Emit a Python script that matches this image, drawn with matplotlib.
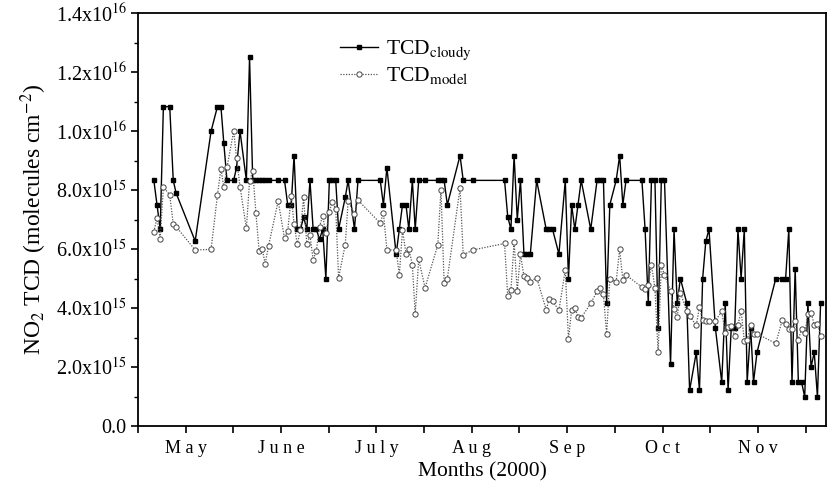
import matplotlib
matplotlib.use('Agg')
import matplotlib.pyplot as plt
from matplotlib.ticker import FixedLocator, MultipleLocator, FuncFormatter

plt.rcParams['font.family'] = ['Liberation Serif', 'DejaVu Serif']
plt.rcParams['mathtext.fontset'] = 'stix'

# days counted from the start of May 2000
days = [5.0, 6.0, 7.0, 8.0, 10.0, 11.1, 12.0, 18.0, 23.0, 25.0,
        26.1, 27.0, 28.0, 30.1, 31.0, 32.1, 34.1, 35.1, 36.1, 37.1,
        38.1, 39.1, 40.0, 41.1, 44.1, 46.1, 47.1, 48.2, 49.1, 50.1,
        51.1, 52.1, 53.1, 54.1, 55.1, 56.1, 57.1, 58.1, 59.1, 60.2,
        61.1, 62.2, 63.1, 65.2, 66.1, 68.1, 69.2, 76.2, 77.2, 78.3,
        81.2, 82.2, 83.2, 84.3, 85.2, 86.3, 87.2, 88.3, 90.3, 94.3,
        95.3, 96.3, 97.3, 101.3, 102.3, 105.3, 115.3, 116.3, 117.3, 118.3,
        119.3, 120.3, 121.4, 122.4, 123.4, 125.4, 128.4, 129.3, 130.4, 132.4,
        134.4, 135.4, 136.4, 137.4, 138.4, 139.4, 142.4, 144.4, 145.4, 146.4,
        147.4, 148.4, 150.4, 151.5, 152.5, 153.5, 158.5, 159.5, 160.5, 161.5,
        162.6, 163.6, 164.6, 165.6, 167.5, 168.6, 169.6, 170.6, 172.6, 173.5,
        175.6, 176.6, 177.6, 178.6, 179.6, 181.6, 183.6, 184.7, 185.6, 186.6,
        187.7, 188.7, 189.7, 190.7, 191.6, 192.7, 193.6, 194.7, 200.6, 202.6,
        203.7, 204.7, 205.7, 206.7, 207.7, 208.7, 209.7, 210.7, 211.7, 212.7,
        213.7, 214.7]

# NO2 total column density, units of 1e15 molecules cm^-2
tcd_cloudy = [8.33, 7.5, 6.67, 10.83, 10.83, 8.33, 7.9, 6.27, 10.0, 10.83,
              10.83, 9.6, 8.33, 8.33, 8.76, 10.0, 8.33, 12.5, 8.33, 8.33,
              8.33, 8.33, 8.33, 8.33, 8.33, 8.33, 7.5, 7.5, 9.17, 6.67,
              6.67, 7.08, 6.67, 8.33, 6.67, 6.67, 6.33, 6.67, 5.0, 8.33,
              8.33, 8.33, 6.67, 7.75, 8.33, 6.67, 8.33, 8.33, 7.5, 8.76,
              5.83, 6.67, 7.5, 7.5, 6.67, 8.33, 6.67, 8.33, 8.33, 8.33,
              8.33, 8.33, 7.5, 9.17, 8.33, 8.33, 8.33, 7.1, 6.67, 9.17,
              7.0, 8.33, 5.83, 5.83, 5.83, 8.33, 6.67, 6.67, 6.67, 5.83,
              8.33, 5.0, 7.5, 6.67, 7.5, 8.33, 6.67, 8.33, 8.33, 8.33,
              4.17, 7.5, 8.33, 9.17, 7.5, 8.33, 8.33, 6.67, 4.17, 8.33,
              8.33, 3.33, 8.33, 8.33, 2.09, 6.67, 4.17, 5.0, 4.17, 1.21,
              2.5, 1.21, 5.0, 6.27, 6.67, 3.33, 1.49, 4.17, 1.21, 3.33,
              3.33, 6.67, 5.0, 6.67, 1.49, 3.33, 1.49, 2.5, 5.0, 5.0,
              5.0, 6.67, 1.49, 5.34, 1.49, 1.49, 0.99, 4.17, 2.0, 2.5,
              0.99, 4.17]

tcd_model = [6.59, 7.05, 6.35, 8.1, 7.84, 6.85, 6.76, 5.97, 5.99, 7.83,
             8.73, 8.09, 8.77, 10.0, 9.1, 8.12, 6.7, 8.3, 8.64, 7.23,
             5.95, 6.0, 5.5, 6.12, 7.63, 6.36, 6.6, 7.8, 6.85, 6.17,
             6.64, 7.75, 6.17, 6.47, 5.64, 5.94, 6.76, 7.13, 6.53, 7.27,
             7.6, 7.37, 5.03, 6.15, 7.62, 7.19, 7.66, 6.88, 7.23, 5.97,
             5.97, 5.12, 6.64, 5.85, 6.0, 5.47, 3.79, 5.65, 4.69, 6.14,
             8.02, 4.84, 5.0, 8.07, 5.8, 5.97, 6.19, 4.4, 4.61, 6.23,
             4.59, 5.82, 5.08, 5.02, 4.9, 5.03, 3.94, 4.3, 4.24, 3.92,
             5.3, 2.94, 3.95, 4.0, 3.7, 3.67, 4.16, 4.57, 4.68, 4.47,
             3.11, 5.0, 4.9, 5.99, 4.95, 5.12, 4.71, 4.66, 4.78, 5.47,
             4.67, 2.5, 5.46, 5.12, 4.59, 3.98, 3.69, 4.52, 3.89, 3.72,
             3.42, 4.04, 3.58, 3.56, 3.55, 3.56, 3.89, 3.15, 3.37, 3.4,
             3.05, 3.42, 3.91, 2.89, 2.92, 3.44, 3.12, 3.13, 2.8, 3.58,
             3.46, 3.28, 3.28, 3.56, 2.92, 3.29, 3.15, 3.79, 3.84, 3.43,
             3.47, 3.06]

months = ['May', 'June', 'July', 'Aug', 'Sep', 'Oct', 'Nov']
scale = 1e15

fig = plt.figure(figsize=(8.31, 4.88), dpi=100)
ax = fig.add_axes([0.166, 0.127, 0.828, 0.846])

ax.plot(days, [v * scale for v in tcd_cloudy], color='black', lw=1.0,
        marker='s', markersize=3.2, markerfacecolor='black', markeredgecolor='black',
        label=r'TCD$_{\mathrm{cloudy}}$')
ax.plot(days, [v * scale for v in tcd_model], color='#555555', lw=0.9, ls=(0, (1, 1.2)),
        marker='o', markersize=3.8, markerfacecolor='white', markeredgecolor='#444444',
        markeredgewidth=0.7, label=r'TCD$_{\mathrm{model}}$')

ax.set_xlim(0, 216.4)
ax.set_ylim(0, 1.4e16)

# tick every 15 days, month names on the mid-month ticks
xt = list(range(0, 216, 15))
ax.xaxis.set_major_locator(FixedLocator(xt))
labels = []
for i in range(len(xt)):
    k = i // 2
    labels.append(' '.join(months[k]) if i % 2 == 1 and k < len(months) else '')
ax.set_xticklabels(labels, fontsize=13)

ax.yaxis.set_major_locator(MultipleLocator(2e15))
ax.yaxis.set_minor_locator(MultipleLocator(1e15))


def sci_label(v, pos):
    if v == 0:
        return '0.0'
    exp = 15 if v < 1e16 else 16
    return r'%.1fx10$^{%d}$' % (v / 10 ** exp, exp)


ax.yaxis.set_major_formatter(FuncFormatter(sci_label))
ax.tick_params(axis='y', which='major', labelsize=14.5, length=5, width=1.2, direction='out', pad=3)
ax.tick_params(axis='y', which='minor', length=3, width=1.0, direction='out')
ax.tick_params(axis='x', which='major', length=5, width=1.2, direction='out', pad=5)

for s in ax.spines.values():
    s.set_linewidth(1.3)

ax.set_xlabel('Months (2000)', fontsize=15.5, labelpad=4)
ax.set_ylabel(r'NO$_2$ TCD (molecules cm$^{-2}$)', fontsize=17, labelpad=5)

ax.legend(loc='upper left', bbox_to_anchor=(0.265, 0.985), frameon=False, fontsize=15.5,
          handlelength=1.8, handletextpad=0.35, labelspacing=0.15)

plt.savefig('out.png', dpi=100, facecolor='white')
plt.close()
